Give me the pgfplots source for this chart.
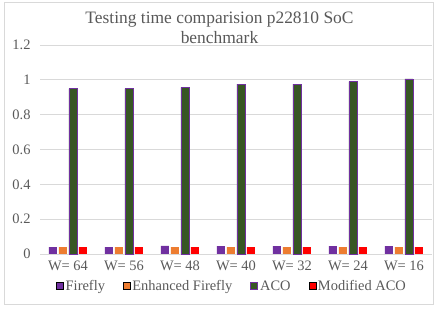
\documentclass[border=0pt]{standalone}
\usepackage{fontspec}
\setmainfont{Liberation Serif}
\usepackage{pgfplots}
\pgfplotsset{compat=1.18}
\definecolor{txt}{HTML}{595959}
\definecolor{grd}{HTML}{D9D9D9}
\definecolor{ffly}{HTML}{7030A0}
\definecolor{eff}{HTML}{ED7D31}
\definecolor{aco}{HTML}{375623}
\definecolor{maco}{HTML}{FF0000}
\begin{document}
\begin{tikzpicture}
\path[use as bounding box] (-40bp,-56bp) rectangle (399bp,254bp);
\draw[grd] (-36bp,-50bp) rectangle (393bp,252bp);
\begin{axis}[
  at={(0,0)}, anchor=south west,
  scale only axis, width=392bp, height=209bp,
  ybar=2bp, bar width=8bp,
  ymin=0, ymax=1.2, ytick={0,0.2,...,1.2},
  xmin=-0.5, xmax=6.5,
  xtick={0,...,6}, xticklabels={W= 64,W= 56,W= 48,W= 40,W= 32,W= 24,W= 16},
  axis x line*=bottom, axis y line*=left,
  x axis line style={grd, line width=0.8pt, -},
  y axis line style={draw=none},
  major tick length=0pt,
  ymajorgrids, grid style={grd, line width=0.8pt},
  /pgf/number format/assume math mode=true,
  yticklabel style={font=\fontsize{14.5}{16}\selectfont, text=txt, xshift=-6bp},
  xticklabel style={font=\fontsize{14.5}{16}\selectfont, text=txt, yshift=-3bp},
  ytick style={draw=none}, xtick style={draw=none},
  legend style={at={(0.49,-0.115)}, anchor=north, draw=none, fill=none,
    font=\fontsize{14.5}{16}\selectfont, text=txt, legend columns=4,
    /tikz/every even column/.append style={column sep=16bp},
    inner sep=0pt},
  legend image code/.code={\draw[#1] (0bp,-3.5bp) rectangle (7bp,3.5bp);},
  y tick label style={/pgf/number format/fixed},
  clip=false,
]
\addplot[fill=ffly, draw=none] coordinates {(0,0.04) (1,0.04) (2,0.046) (3,0.045) (4,0.045) (5,0.045) (6,0.045)};
\addplot[fill=eff, draw=none] coordinates {(0,0.04) (1,0.04) (2,0.04) (3,0.04) (4,0.04) (5,0.04) (6,0.04)};
\addplot[fill=aco, draw=ffly, line width=0.8pt] coordinates {(0,0.95) (1,0.95) (2,0.957) (3,0.975) (4,0.975) (5,0.99) (6,1.005)};
\addplot[fill=maco, draw=none] coordinates {(0,0.04) (1,0.04) (2,0.04) (3,0.04) (4,0.04) (5,0.04) (6,0.04)};
\legend{Firefly, Enhanced Firefly, ACO, Modified ACO}
\end{axis}
\node[text=txt, font=\fontsize{17.5}{20}\selectfont, align=center] at (179.5bp,226bp) {Testing time comparision p22810 SoC\\benchmark};
\end{tikzpicture}
\end{document}
